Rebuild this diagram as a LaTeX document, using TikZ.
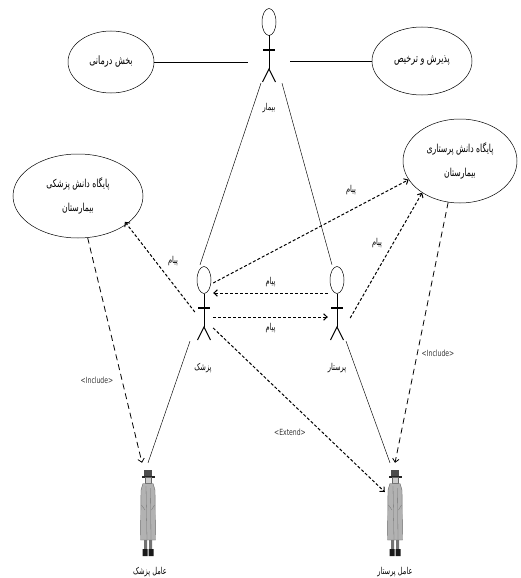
\documentclass[tikz,border=0pt]{standalone}
\usepackage{fontspec}
\usetikzlibrary{arrows.meta,shapes.geometric}
\TeXXeTstate=1
\newfontfamily\persianfont[Script=Arabic,FakeStretch=0.7]{DejaVu Sans}
\newfontfamily\narrowsans[FakeStretch=0.72]{DejaVu Sans}
\newcommand{\rl}[1]{\beginR #1\endR}

\tikzset{
  usecase/.style={draw, ellipse, line width=0.5pt, inner sep=0pt, align=center,
    font=\persianfont\fontsize{11.5}{14}\selectfont},
  kbcase/.style={usecase, font=\persianfont\fontsize{11}{24}\selectfont},
  actor/.style={inner sep=0pt, minimum width=18pt, minimum height=76pt},
  agent/.style={inner sep=0pt, minimum width=20pt, minimum height=94pt},
  assoc/.style={line width=0.45pt},
  msg/.style={line width=1pt, dash pattern=on 3pt off 2pt,
    -{Straight Barb[length=3.5pt,width=6.5pt]}},
  incl/.style={line width=0.8pt, dash pattern=on 6pt off 4pt,
    -{Straight Barb[length=3.5pt,width=6.5pt]}},
  lbl/.style={inner sep=0pt, font=\persianfont\fontsize{9.5}{11}\selectfont},
  stereo/.style={inner sep=0pt, text=black!80, font=\narrowsans\fontsize{8.5}{10}\selectfont},
  % UML stick figure, origin at the figure's centre
  stickman/.pic={
    \draw[line width=0.5pt] (0,-23) ellipse [x radius=7pt, y radius=13.5pt];
    \draw[line width=1pt] (0,-9.5) -- (0,24);
    \draw[line width=2pt] (-6,5) -- (6,5);
    \draw[line width=1pt] (-6.5,37) -- (0,24) -- (6.5,37);
  },
  % clip-art agent in hat and long coat, origin at the figure's centre
  agentfig/.pic={
    \fill[black!70] (-4,-40) rectangle (4,-34);
    \fill[black!85] (-6.5,-34.5) rectangle (6.5,-32.5);
    \draw[black!60, fill=black!20, line width=0.3pt] (-3,-32.5) rectangle (3,-26.5);
    \draw[black!60, fill=black!30, line width=0.4pt]
      (-5,-26.5) -- (5,-26.5) -- (7,-20) -- (7.5,30) -- (-7.5,30) -- (-7,-20) -- cycle;
    \draw[black!55, line width=0.3pt] (-2,-24) -- (-1,30) (2.5,-22) -- (3,30)
      (-6.5,-5) -- (-3,0) (6.5,-5) -- (3.5,0);
    \fill[black!55] (-4,30) rectangle (-1,39) (1,30) rectangle (4,39);
    \fill[black!90] (-5.5,39) rectangle (-0.5,46) (0.5,39) rectangle (5.5,46);
  },
}

\begin{document}
\begin{tikzpicture}[x=1pt,y=-1pt]
  \useasboundingbox (0,0) rectangle (521,578);
  \fill[white] (0,0) rectangle (521,578);

  % use cases
  \node[usecase, minimum width=86pt, minimum height=62pt] (treat) at (111,62) {\rl{بخش درمانی}};
  \node[usecase, minimum width=100pt, minimum height=68pt] (admit) at (422,61) {\rl{پذیرش و ترخیص}};
  \node[kbcase, minimum width=130pt, minimum height=84pt] (kbdoc) at (78,196)
    {\rl{پایگاه دانش پزشکی}\\\rl{بیمارستان}};
  \node[kbcase, minimum width=114pt, minimum height=84pt] (kbnur) at (460,161)
    {\rl{پایگاه دانش پرستاری}\\\rl{بیمارستان}};

  % actors
  \node[actor, minimum width=41pt] (pat) at (269,45) {};
  \node[actor] (doc) at (204,303) {};
  \node[actor] (nur) at (337,303) {};
  \pic at (pat) {stickman};
  \pic at (doc) {stickman};
  \pic at (nur) {stickman};
  \node[lbl] (patlbl) at (269,108) {\rl{بیمار}};
  \node[lbl] (doclbl) at (203,368) {\rl{پزشک}};
  \node[lbl] (nurlbl) at (337,368) {\rl{پرستار}};

  % agents
  \node[agent] (adoc) at (148,510) {};
  \node[agent] (anur) at (395,510) {};
  \pic at (adoc) {agentfig};
  \pic at (anur) {agentfig};
  \node[lbl] (adoclbl) at (150,572) {\rl{عامل پزشک}};
  \node[lbl] (anurlbl) at (395,572) {\rl{عامل پرستار}};

  % associations
  \draw[assoc] (treat.east) -- (treat.east -| pat.west);
  \draw[assoc] (admit.west) -- (admit.west -| pat.east);
  \draw[assoc] ([xshift=-8pt]pat.south) -- ([xshift=-4pt]doc.north);
  \draw[assoc] ([xshift=13pt]pat.south) -- ([xshift=-5pt]nur.north);
  \draw[assoc] ([xshift=-14pt]doc.south) -- (adoc.north);
  \draw[assoc] ([xshift=9pt]nur.south) -- ([xshift=-5pt]anur.north);

  % messages
  \draw[msg] ([yshift=10pt]nur.west) -- node[lbl, above=6pt] (m1) {\rl{پیام}} ([yshift=10pt]doc.east);
  \draw[msg] ([yshift=-14pt]doc.east) -- node[lbl, below=6pt] (m2) {\rl{پیام}} ([yshift=-14pt]nur.west);
  \draw[msg] ([yshift=20pt]doc.east) -- (kbnur.200);
  \draw[msg] ([xshift=4pt,yshift=-15pt]nur.east) -- (kbnur.220);
  \draw[msg, shorten >=-3pt] ([yshift=-9pt]doc.west) -- (kbdoc.330);
  \node[lbl] (m3) at (351,190) {\rl{پیام}};
  \node[lbl] (m4) at (377,243) {\rl{پیام}};
  \node[lbl] (m5) at (173,261) {\rl{پیام}};

  % include / extend
  \draw[incl] (kbdoc.283) -- ([xshift=-6pt]adoc.north);
  \draw[incl] (kbnur.254) -- (anur.north);
  \draw[msg] ([yshift=-25pt]doc.east) -- ([yshift=18pt]anur.west);
  \node[stereo] (inc1) at (97,380) {<Include>};
  \node[stereo] (inc2) at (438,353) {<Include>};
  \node[stereo] (ext) at (290,432) {<Extend>};
\end{tikzpicture}
\end{document}
